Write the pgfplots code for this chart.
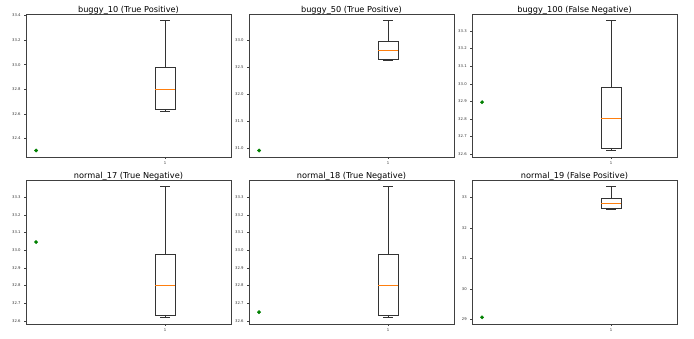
\documentclass[border=0pt]{standalone}
\usepackage{pgfplots}
\pgfplotsset{compat=1.18}
\usepgfplotslibrary{statistics}
\usepackage{fontspec}
\setmainfont{DejaVu Sans}
\definecolor{mplgreen}{rgb}{0,0.5,0}
\definecolor{mplorange}{HTML}{FF7F0E}
\pgfplotsset{
  panel/.style={
    scale only axis, width=205pt, height=143pt, anchor=south west,
    xmin=-0.078, xmax=1.51, xtick={1}, xticklabels={1},
    axis line style={black!75, line width=0.5pt},
    tick align=outside, major tick length=1.8pt,
    tick style={black!75, line width=0.4pt},
    ytick pos=left, xtick pos=bottom,
    tick label style={font=\fontsize{3.8}{4}\selectfont, black!80},
    xticklabel style={yshift=0.5pt},
    /pgf/number format/assume math mode=true,
    yticklabel style={/pgf/number format/fixed, /pgf/number format/fixed zerofill, /pgf/number format/precision=1},
    title style={font=\fontsize{8.2}{9}\selectfont, inner sep=1.5pt, yshift=-8pt},
    boxplot/draw direction=y,
    boxplot/box extend=0.15, boxplot/whisker extend=0.075,
    boxplot/every median/.style={draw=none},
    boxplot/every box/.style={draw=black!80, line width=0.5pt},
    boxplot/every whisker/.style={draw=black!80, line width=0.5pt},
  },
  bx/.style={black, boxplot prepared={lower whisker=32.62, lower quartile=32.635, median=32.80, upper quartile=32.98, upper whisker=33.36, draw position=1}},
  med/.style={mplorange, line width=0.8pt, mark=none},
  greenpt/.style={only marks, mark=*, mark size=1.7pt, color=mplgreen}
}
\begin{document}
\begin{tikzpicture}
\useasboundingbox (0,0) rectangle (694pt,339pt);
% top row
\begin{axis}[panel, at={(26pt,182pt)}, title={buggy\_10 (True Positive)},
  ymin=32.247, ymax=33.413, ytick={32.4,32.6,32.8,33.0,33.2,33.4}]
\addplot[bx] coordinates {};
\addplot[med] coordinates {(0.925,32.80) (1.075,32.80)};
\addplot[greenpt] coordinates {(0,32.30)};
\end{axis}
\begin{axis}[panel, at={(249pt,182pt)}, title={buggy\_50 (True Positive)},
  ymin=30.83, ymax=33.48, ytick={31.0,31.5,32.0,32.5,33.0}]
\addplot[bx] coordinates {};
\addplot[med] coordinates {(0.925,32.80) (1.075,32.80)};
\addplot[greenpt] coordinates {(0,30.95)};
\end{axis}
\begin{axis}[panel, at={(472pt,182pt)}, title={buggy\_100 (False Negative)},
  ymin=32.583, ymax=33.397, ytick={32.6,32.7,32.8,32.9,33.0,33.1,33.2,33.3}]
\addplot[bx] coordinates {};
\addplot[med] coordinates {(0.925,32.80) (1.075,32.80)};
\addplot[greenpt] coordinates {(0,32.895)};
\end{axis}
% bottom row
\begin{axis}[panel, at={(26pt,15pt)}, height=144pt, title={normal\_17 (True Negative)},
  ymin=32.583, ymax=33.397, ytick={32.6,32.7,32.8,32.9,33.0,33.1,33.2,33.3}]
\addplot[bx] coordinates {};
\addplot[med] coordinates {(0.925,32.80) (1.075,32.80)};
\addplot[greenpt] coordinates {(0,33.046)};
\end{axis}
\begin{axis}[panel, at={(249pt,15pt)}, height=144pt, title={normal\_18 (True Negative)},
  ymin=32.583, ymax=33.397, ytick={32.6,32.7,32.8,32.9,33.0,33.1,33.2,33.3}]
\addplot[bx] coordinates {};
\addplot[med] coordinates {(0.925,32.80) (1.075,32.80)};
\addplot[greenpt] coordinates {(0,32.65)};
\end{axis}
\begin{axis}[panel, at={(472pt,15pt)}, height=144pt, title={normal\_19 (False Positive)},
  ymin=28.856, ymax=33.575, ytick={29,30,31,32,33},
  yticklabel style={/pgf/number format/precision=0, /pgf/number format/fixed zerofill=false}]
\addplot[bx] coordinates {};
\addplot[med] coordinates {(0.925,32.80) (1.075,32.80)};
\addplot[greenpt] coordinates {(0,29.075)};
\end{axis}
\end{tikzpicture}
\end{document}
